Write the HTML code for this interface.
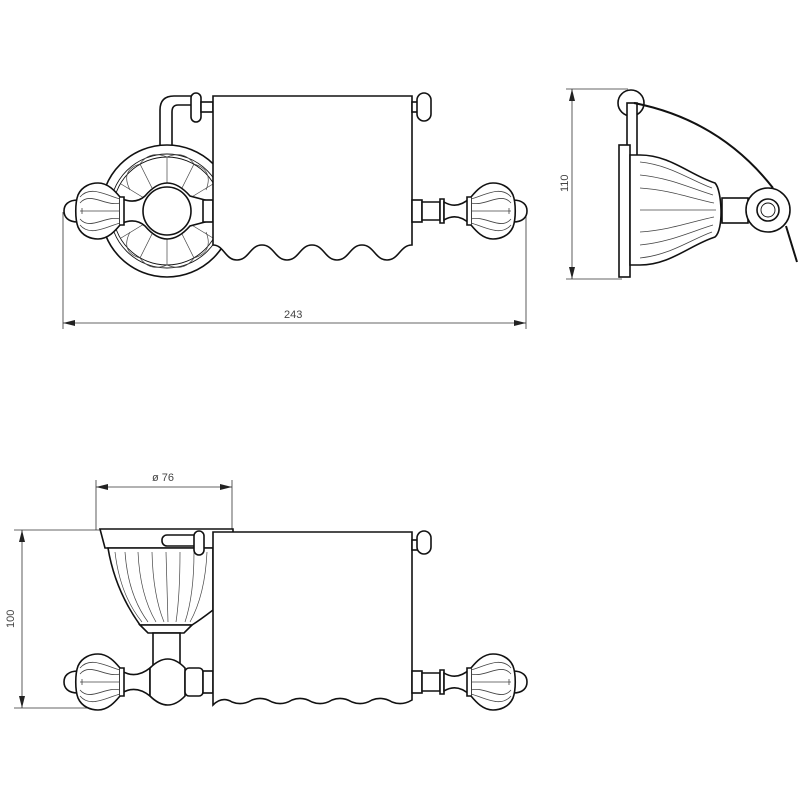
<!DOCTYPE html>
<html><head><meta charset="utf-8"><style>
html,body{margin:0;padding:0;background:#fff;}
svg{display:block;}
text{font-family:"Liberation Sans",sans-serif;font-size:11px;fill:#444;}
</style></head><body>
<svg width="800" height="800" viewBox="0 0 800 800" xmlns="http://www.w3.org/2000/svg">
<defs>
<g id="orn" fill="#fff" stroke="#111" stroke-width="1.6">
  <path d="M14,-11 C4,-11 0,-6 0,0 C0,6 4,11 14,11 Z"/>
  <path d="M14,-16 C18,-25 27,-28 34,-28 C44,-28 51,-20 56,-14 L56,14 C51,20 44,28 34,28 C27,28 18,25 14,16 C11,8 11,-8 14,-16 Z"/>
  <g fill="none" stroke-width="0.8" stroke="#444">
    <path d="M16,0 L56,0"/>
    <path d="M16,-8 C26,-20 42,-4 56,-8"/>
    <path d="M16,8 C26,20 42,4 56,8"/>
    <path d="M16,-14 C26,-26 42,-16 56,-12"/>
    <path d="M16,14 C26,26 42,16 56,12"/>
    <path d="M18,-3 L18,3"/>
  </g>
  <path d="M56,-14 L60,-14 L60,14 L56,14" />
</g>
</defs>

<g fill="none" stroke="#333" stroke-width="0.8">
  <line x1="63" y1="212" x2="63" y2="329"/>
  <line x1="526" y1="212" x2="526" y2="329"/>
  <line x1="63" y1="323" x2="526" y2="323"/>
  <line x1="566" y1="89" x2="628" y2="89"/>
  <line x1="566" y1="279" x2="622" y2="279"/>
  <line x1="572" y1="89" x2="572" y2="279"/>
  <line x1="96" y1="480" x2="96" y2="530"/>
  <line x1="232" y1="480" x2="232" y2="530"/>
  <line x1="96" y1="487" x2="232" y2="487"/>
  <line x1="14" y1="530" x2="100" y2="530"/>
  <line x1="14" y1="708" x2="92" y2="708"/>
  <line x1="22" y1="530" x2="22" y2="708"/>
</g>
<g fill="#222">
  <path d="M63,323 l12,-3 l0,6z"/><path d="M526,323 l-12,-3 l0,6z"/>
  <path d="M572,89 l-3,12 l6,0z"/><path d="M572,279 l-3,-12 l6,0z"/>
  <path d="M96,487 l12,-3 l0,6z"/><path d="M232,487 l-12,-3 l0,6z"/>
  <path d="M22,530 l-3,12 l6,0z"/><path d="M22,708 l-3,-12 l6,0z"/>
</g>
<text x="284" y="318">243</text>
<text x="152" y="481">ø 76</text>
<text transform="translate(568,192) rotate(-90)">110</text>
<text transform="translate(14,628) rotate(-90)">100</text>

<!-- ===== TOP VIEW ===== -->
<g fill="#fff" stroke="#111" stroke-width="1.6">
  <path d="M160,150 L160,110 Q160,96 174,96 L195,96 L195,105 L178,105 Q172,105 172,112 L172,150 Z"/>
  <rect x="191" y="93" width="10" height="29" rx="5"/>
  <rect x="201" y="102" width="12" height="10"/>
  <circle cx="167" cy="211" r="66"/>
  <circle cx="167" cy="211" r="57" stroke-width="0.9"/>
  <circle cx="167" cy="211" r="54" stroke-width="0.9"/>
  <g stroke-width="0.7" stroke="#444">
    <path d="M167,157 L167,185 M194,164 L182,188 M213,184 L190,198 M140,164 L152,188 M121,184 L144,198 M167,265 L167,237 M194,258 L182,234 M213,238 L190,224 M140,258 L152,234 M121,238 L144,224"/>
    <path d="M130,190 Q120,170 140,164 Q150,150 167,157 Q184,150 194,164 Q214,170 206,190" fill="none"/>
    <path d="M130,232 Q120,252 140,258 Q150,272 167,265 Q184,272 194,258 Q214,252 206,232" fill="none"/>
  </g>
  <path d="M120,198 Q135,205 145,196 Q167,170 190,196 L205,200 L205,222 L190,226 Q167,252 145,226 Q135,217 120,224 Z"/>
  <circle cx="167" cy="211" r="24"/>
  <rect x="203" y="200" width="10" height="22"/>
  <path d="M213,96 L412,96 L412,245 C400,245 399,260 387,260 C375,260 374,245 362,245 C350,245 349,260 337,260 C325,260 324,245 312,245 C300,245 299,260 287,260 C275,260 274,245 262,245 C250,245 249,260 237,260 C225,260 224,245 213,245 Z"/>
  <rect x="412" y="102" width="8" height="10"/>
  <rect x="417" y="93" width="14" height="28" rx="7"/>
  <rect x="412" y="200" width="10" height="22"/>
  <path d="M422,202 L440,202 L440,220 L422,220 Z"/>
  <path d="M440,199 L444,199 L444,223 L440,223 Z"/>
  <path d="M444,202 Q457,210 470,198 L470,224 Q457,212 444,220 Z"/>
</g>
<use href="#orn" transform="translate(64,211)"/>
<use href="#orn" transform="translate(527,211) scale(-1,1)"/>

<!-- ===== SIDE VIEW ===== -->
<g fill="#fff" stroke="#111" stroke-width="1.6">
  <circle cx="631" cy="103" r="13"/>
  <rect x="627" y="103" width="10" height="55"/>
  <rect x="619" y="145" width="11" height="132"/>
  <path d="M630,155 L640,155 C670,155 690,175 715,183 C722,190 724,230 715,237 C690,245 670,265 640,265 L630,265 Z"/>
  <g stroke-width="0.8" stroke="#444" fill="none">
    <path d="M640,162 C670,165 690,180 712,188"/>
    <path d="M640,175 C670,178 690,188 713,195"/>
    <path d="M640,188 C670,190 690,198 714,203"/>
    <path d="M640,210 L716,210"/>
    <path d="M640,232 C670,230 690,222 714,217"/>
    <path d="M640,245 C670,242 690,232 713,225"/>
    <path d="M640,258 C670,255 690,240 712,232"/>
  </g>
  <rect x="722" y="198" width="26" height="25"/>
  <circle cx="768" cy="210" r="22"/>
  <circle cx="768" cy="210" r="11"/>
  <circle cx="768" cy="210" r="7" stroke-width="0.9"/>
  <path d="M634,103 Q720,120 773,188" fill="none" stroke-width="2"/>
  <path d="M786,226 L797,262" fill="none" stroke-width="2"/>
</g>

<!-- ===== BOTTOM VIEW ===== -->
<g fill="#fff" stroke="#111" stroke-width="1.6">
  <path d="M100,529 L233,529 L233,536 L215,536 L215,548 L105,548 Z"/>
  <path d="M108,548 L213,548 L213,610 Q200,620 192,625 L140,625 Q115,590 108,548 Z"/>
  <g stroke-width="0.7" stroke="#444" fill="none">
    <path d="M115,552 Q120,595 142,622"/><path d="M125,552 Q128,595 148,622"/>
    <path d="M138,552 Q140,595 156,622"/><path d="M152,552 Q153,595 164,622"/>
    <path d="M166,552 L168,622"/><path d="M180,552 Q180,595 176,622"/>
    <path d="M194,552 Q194,595 185,622"/><path d="M207,552 Q205,595 190,622"/>
  </g>
  <path d="M140,625 L192,625 L184,633 L148,633 Z"/>
  <rect x="153" y="633" width="27" height="32"/>
  <rect x="162" y="535" width="38" height="11" rx="5"/>
  <rect x="194" y="531" width="10" height="24" rx="5"/>
  <path d="M120,670 Q135,680 150,668 L150,696 Q135,684 120,694 Z"/>
  <path d="M150,668 Q168,650 185,668 L185,696 Q168,714 150,696 Z"/>
  <rect x="185" y="668" width="18" height="28" rx="4"/>
  <rect x="203" y="671" width="10" height="22"/>
  <path d="M213,532 L412,532 L412,700 Q402,706 392,702 Q382,696 372,700 Q362,706 352,702 Q342,696 332,700 Q322,706 312,702 Q302,696 292,700 Q282,706 272,702 Q262,696 252,700 Q242,706 232,702 Q222,696 213,705 Z"/>
  <rect x="412" y="540" width="8" height="10"/>
  <rect x="417" y="531" width="14" height="23" rx="7"/>
  <rect x="412" y="671" width="10" height="22"/>
  <path d="M422,673 L440,673 L440,691 L422,691 Z"/>
  <path d="M440,670 L444,670 L444,694 L440,694 Z"/>
  <path d="M444,673 Q457,681 470,669 L470,695 Q457,683 444,691 Z"/>
</g>
<use href="#orn" transform="translate(64,682)"/>
<use href="#orn" transform="translate(527,682) scale(-1,1)"/>
</svg>
</body></html>
